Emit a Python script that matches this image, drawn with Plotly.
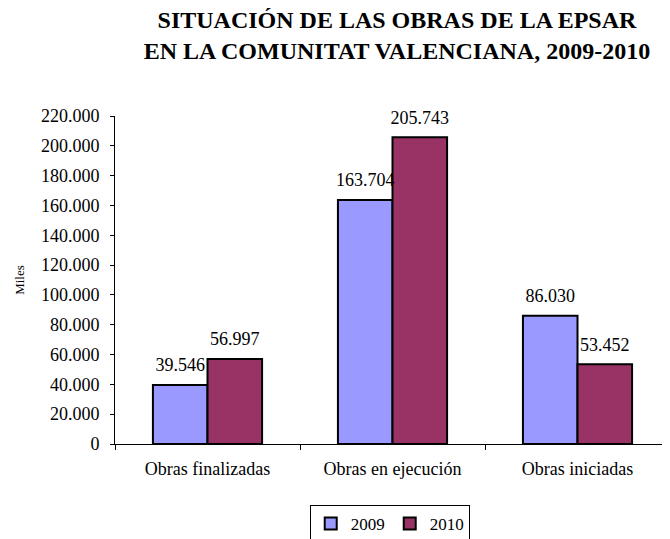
import plotly.graph_objects as go

categories = ["Obras finalizadas", "Obras en ejecución", "Obras iniciadas"]
values_2009 = [39546, 163704, 86030]
values_2010 = [56997, 205743, 53452]
tick_vals = list(range(0, 220001, 20000))
tick_text = ["0", "20.000", "40.000", "60.000", "80.000", "100.000", "120.000",
             "140.000", "160.000", "180.000", "200.000", "220.000"]

font_family = "Liberation Serif"


def fmt(v):
    return f"{v:,}".replace(",", ".")


fig = go.Figure()
series = [("2009", values_2009, "#9999FF"), ("2010", values_2010, "#993366")]
for name, vals, color in series:
    fig.add_trace(go.Bar(
        name=name, x=categories, y=vals, offsetgroup=name,
        marker=dict(color=color, line=dict(color="black", width=2)),
    ))
for name, vals, color in series:
    fig.add_trace(go.Scatter(
        x=categories, y=vals, offsetgroup=name, mode="markers+text",
        text=[fmt(v) for v in vals], textposition="top center",
        textfont=dict(size=18, color="black", family=font_family),
        marker=dict(size=13, opacity=0), showlegend=False, cliponaxis=False,
        hoverinfo="skip",
    ))

# page body adds an 8px offset, so the figure is sized to fit the 670x539 window
fig.update_layout(
    width=662, height=531,
    margin=dict(l=107, r=0, t=108, b=95, autoexpand=False),
    paper_bgcolor="white", plot_bgcolor="white",
    font=dict(family=font_family, color="black", size=18),
    barmode="group", bargap=0.41, bargroupgap=0,
    scattermode="group", scattergap=0.41,
    title=dict(
        text="<b>SITUACIÓN DE LAS OBRAS DE LA EPSAR<br>EN LA COMUNITAT VALENCIANA, 2009-2010</b>",
        x=0.508, xref="paper", xanchor="center",
        y=0.963, yref="container", yanchor="top",
        font=dict(size=24, family=font_family, color="black"),
    ),
    showlegend=True,
    legend=dict(
        orientation="h", x=0.495, xanchor="center", y=-0.186, yanchor="top",
        bordercolor="black", borderwidth=1,
        font=dict(size=17, family=font_family),
        itemwidth=30, traceorder="normal",
    ),
    xaxis=dict(
        showline=True, linecolor="black", linewidth=1,
        ticks="outside", tickson="boundaries", ticklen=5, tickcolor="black",
        tickfont=dict(size=18), showgrid=False, ticklabelstandoff=8,
    ),
    yaxis=dict(
        range=[0, 220000], tickvals=tick_vals, ticktext=tick_text,
        showline=True, linecolor="black", linewidth=1,
        ticks="outside", ticklen=4, tickcolor="black",
        tickfont=dict(size=18), showgrid=False, zeroline=False,
        ticklabelstandoff=7,
        title=dict(text="Miles", font=dict(size=13), standoff=13),
    ),
)

fig.write_html("out.html")
